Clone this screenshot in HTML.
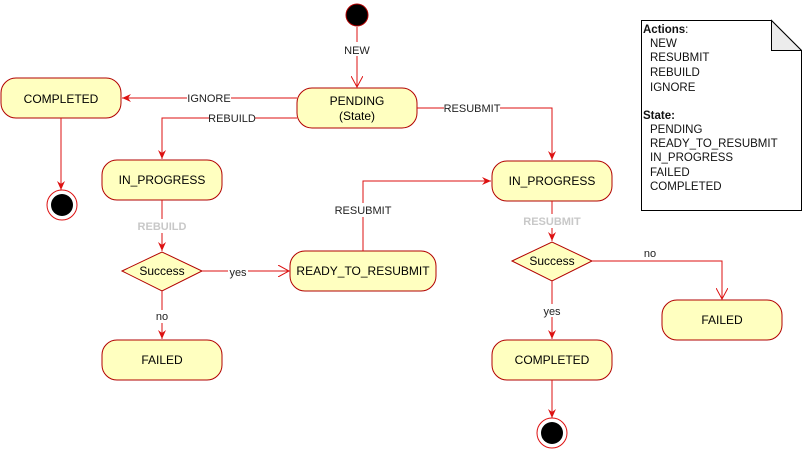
<!DOCTYPE html>
<html><head><meta charset="utf-8"><style>
html,body{margin:0;padding:0;background:#fff;}
svg{display:block;font-family:"Liberation Sans",Arial,sans-serif;}
.box{fill:#ffffc0;stroke:#b20000;stroke-width:1;}
.ln{stroke:#dd1111;stroke-width:1;fill:none;}
.t{font-size:12px;fill:#000;text-anchor:middle;}
.l{font-size:11px;fill:#222;text-anchor:middle;}
.g{font-size:11px;fill:#c8c8c8;text-anchor:middle;font-weight:bold;}
</style></head><body>
<svg width="802" height="451" viewBox="0 0 802 451" xmlns="http://www.w3.org/2000/svg">
<defs>
<marker id="a" markerWidth="10" markerHeight="10" refX="9" refY="5" orient="auto" markerUnits="userSpaceOnUse"><path d="M0,1 L9,5 L0,9 L3,5 Z" fill="#dd1111"/></marker>
<marker id="o" markerWidth="12" markerHeight="12" refX="11" refY="6" orient="auto" markerUnits="userSpaceOnUse"><path d="M0,0 L11,6 L0,12" fill="none" stroke="#dd1111"/></marker>
</defs>
<rect width="802" height="451" fill="#fff"/>
<!-- start -->
<circle cx="357" cy="15" r="11" fill="#000" stroke="#b20000"/>
<line class="ln" x1="357" y1="27" x2="357" y2="87" marker-end="url(#o)"/>
<rect x="340" y="42" width="34" height="14" fill="#fff"/>
<text class="l" x="357" y="54">NEW</text>
<!-- PENDING -->
<rect class="box" x="297" y="88" width="120" height="40" rx="15"/>
<text class="t" x="357" y="105">PENDING</text>
<text class="t" x="357" y="120">(State)</text>
<!-- IGNORE -->
<line class="ln" x1="297" y1="98" x2="122" y2="98" marker-end="url(#a)"/>
<rect x="187" y="91" width="44" height="14" fill="#fff"/>
<text class="l" x="209" y="102">IGNORE</text>
<!-- REBUILD -->
<polyline class="ln" points="297,118 162,118 162,159" marker-end="url(#a)"/>
<rect x="209" y="111" width="46" height="14" fill="#fff"/>
<text class="l" x="232" y="122">REBUILD</text>
<!-- RESUBMIT top -->
<polyline class="ln" points="417,108 552,108 552,160" marker-end="url(#a)"/>
<rect x="444" y="101" width="56" height="14" fill="#fff"/>
<text class="l" x="472" y="112">RESUBMIT</text>
<!-- COMPLETED left -->
<rect class="box" x="1" y="78" width="120" height="40" rx="15"/>
<text class="t" x="61" y="103">COMPLETED</text>
<line class="ln" x1="61" y1="118" x2="61" y2="190" marker-end="url(#a)"/>
<circle cx="62" cy="205" r="15" fill="#fff" stroke="#dd1111"/>
<circle cx="62" cy="205" r="11" fill="#000"/>
<!-- IN_PROGRESS left -->
<rect class="box" x="102" y="160" width="120" height="40" rx="15"/>
<text class="t" x="162" y="184">IN_PROGRESS</text>
<line class="ln" x1="162" y1="200" x2="162" y2="251" marker-end="url(#a)"/>
<rect x="136" y="219" width="52" height="14" fill="#fff"/>
<text class="g" x="162" y="230">REBUILD</text>
<!-- Success left -->
<polygon class="box" points="122,271 162,252 202,271 162,291"/>
<text class="t" x="162" y="275">Success</text>
<line class="ln" x1="202" y1="271" x2="289" y2="271" marker-end="url(#o)"/>
<rect x="228" y="265" width="20" height="13" fill="#fff"/>
<text class="l" x="238" y="276">yes</text>
<line class="ln" x1="162" y1="291" x2="162" y2="339" marker-end="url(#a)"/>
<rect x="154" y="310" width="16" height="13" fill="#fff"/>
<text class="l" x="162" y="320">no</text>
<!-- FAILED left -->
<rect class="box" x="102" y="340" width="120" height="40" rx="15"/>
<text class="t" x="162" y="364">FAILED</text>
<!-- READY -->
<rect class="box" x="290" y="251" width="146" height="40" rx="15"/>
<text class="t" x="363" y="275">READY_TO_RESUBMIT</text>
<polyline class="ln" points="363,251 363,181 491,181" marker-end="url(#a)"/>
<rect x="334" y="203" width="58" height="14" fill="#fff"/>
<text class="l" x="363" y="214">RESUBMIT</text>
<!-- IN_PROGRESS right -->
<rect class="box" x="492" y="161" width="120" height="40" rx="15"/>
<text class="t" x="552" y="185">IN_PROGRESS</text>
<line class="ln" x1="552" y1="201" x2="552" y2="241" marker-end="url(#a)"/>
<rect x="522" y="214" width="60" height="14" fill="#fff"/>
<text class="g" x="552" y="225">RESUBMIT</text>
<!-- Success right -->
<polygon class="box" points="512,261 552,242 592,261 552,281"/>
<text class="t" x="552" y="265">Success</text>
<polyline class="ln" points="592,261 722,261 722,299" marker-end="url(#o)"/>
<text class="l" x="650" y="257">no</text>
<line class="ln" x1="552" y1="281" x2="552" y2="339" marker-end="url(#a)"/>
<rect x="542" y="304" width="20" height="13" fill="#fff"/>
<text class="l" x="552" y="315">yes</text>
<!-- FAILED right -->
<rect class="box" x="662" y="300" width="120" height="40" rx="15"/>
<text class="t" x="722" y="324">FAILED</text>
<!-- COMPLETED right -->
<rect class="box" x="492" y="340" width="120" height="40" rx="15"/>
<text class="t" x="552" y="364">COMPLETED</text>
<line class="ln" x1="552" y1="380" x2="552" y2="418" marker-end="url(#a)"/>
<circle cx="552" cy="433" r="15" fill="#fff" stroke="#dd1111"/>
<circle cx="552" cy="433" r="11" fill="#000"/>
<!-- Note -->
<path d="M641.5,20.5 L771.5,20.5 L801.5,50.5 L801.5,210.5 L641.5,210.5 Z" fill="#fff" stroke="#000"/>
<path d="M771.5,20.5 L771.5,50.5 L801.5,50.5 Z" fill="#ececec" stroke="#000"/>
<g font-size="11.5" fill="#111">
<text x="643" y="33" font-weight="bold">Actions<tspan font-weight="normal">:</tspan></text>
<text x="650" y="47">NEW</text>
<text x="650" y="61">RESUBMIT</text>
<text x="650" y="76">REBUILD</text>
<text x="650" y="91">IGNORE</text>
<text x="643" y="119" font-weight="bold">State:</text>
<text x="650" y="133">PENDING</text>
<text x="650" y="147">READY_TO_RESUBMIT</text>
<text x="650" y="161">IN_PROGRESS</text>
<text x="650" y="176">FAILED</text>
<text x="650" y="190">COMPLETED</text>
</g>
</svg>
</body></html>
